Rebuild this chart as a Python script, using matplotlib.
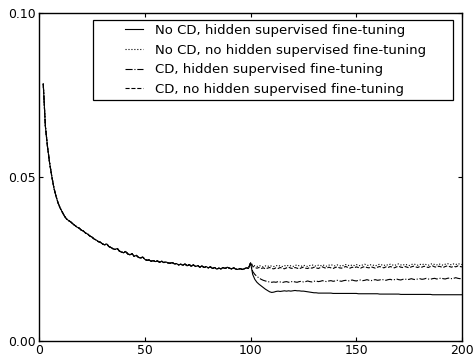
import numpy as np
import matplotlib
matplotlib.use("Agg")
import matplotlib.pyplot as plt
from matplotlib.patches import Rectangle

# epochs 2..100: shared pre-training curve (same for every run)
pretrain_epochs = np.arange(2, 101)
pretrain_err = [
    0.0784, 0.0655, 0.0593, 0.0543, 0.0503, 0.0468, 0.0442, 0.0421, 0.0405,
    0.0393, 0.0381, 0.0372, 0.0367, 0.0363, 0.0357, 0.0352, 0.0347, 0.0344,
    0.0338, 0.0335, 0.0329, 0.0326, 0.0320, 0.0317, 0.0311, 0.0308, 0.0303,
    0.0301, 0.0296, 0.0293, 0.0296, 0.0288, 0.0285, 0.0281, 0.0279, 0.0282,
    0.0274, 0.0271, 0.0269, 0.0273, 0.0265, 0.0263, 0.0266, 0.0258, 0.0261,
    0.0255, 0.0253, 0.0256, 0.0249, 0.0246, 0.0247, 0.0243, 0.0245, 0.0242,
    0.0244, 0.0240, 0.0243, 0.0239, 0.0241, 0.0238, 0.0237, 0.0239, 0.0235,
    0.0236, 0.0232, 0.0234, 0.0231, 0.0235, 0.0229, 0.0233, 0.0228, 0.0232,
    0.0227, 0.0230, 0.0225, 0.0229, 0.0224, 0.0227, 0.0223, 0.0226, 0.0221,
    0.0224, 0.0219, 0.0222, 0.0220, 0.0224, 0.0221, 0.0225, 0.0222, 0.0220,
    0.0223, 0.0219, 0.0218, 0.0221, 0.0218, 0.0220, 0.0223, 0.0221, 0.0238,
]

# epochs 101..200: fine-tuning stage, one series per setting
finetune_epochs = np.arange(101, 201)
nocd_hidden = [
    0.0203, 0.0188, 0.0179, 0.0173, 0.0168, 0.0163, 0.0158, 0.0154, 0.0150, 0.0148,
    0.0149, 0.0151, 0.0152, 0.0151, 0.0152, 0.0153, 0.0152, 0.0153, 0.0152, 0.0153,
    0.0154, 0.0153, 0.0153, 0.0152, 0.0152, 0.0151, 0.0150, 0.0149, 0.0148, 0.0147,
    0.0147, 0.0146, 0.0146, 0.0146, 0.0146, 0.0146, 0.0146, 0.0146, 0.0145, 0.0145,
    0.0145, 0.0145, 0.0145, 0.0145, 0.0145, 0.0145, 0.0145, 0.0145, 0.0145, 0.0145,
    0.0144, 0.0144, 0.0144, 0.0144, 0.0144, 0.0144, 0.0144, 0.0144, 0.0144, 0.0144,
    0.0143, 0.0143, 0.0143, 0.0143, 0.0143, 0.0143, 0.0143, 0.0143, 0.0143, 0.0143,
    0.0142, 0.0142, 0.0142, 0.0142, 0.0142, 0.0142, 0.0142, 0.0142, 0.0142, 0.0142,
    0.0142, 0.0142, 0.0142, 0.0142, 0.0142, 0.0141, 0.0141, 0.0141, 0.0141, 0.0141,
    0.0141, 0.0141, 0.0141, 0.0141, 0.0141, 0.0141, 0.0141, 0.0141, 0.0141, 0.0141,
]
nocd_nohidden = [
    0.0232, 0.0229, 0.0227, 0.0230, 0.0228, 0.0226, 0.0229, 0.0227, 0.0230, 0.0228,
    0.0227, 0.0229, 0.0231, 0.0228, 0.0227, 0.0230, 0.0228, 0.0231, 0.0229, 0.0227,
    0.0230, 0.0232, 0.0229, 0.0228, 0.0231, 0.0229, 0.0227, 0.0230, 0.0232, 0.0230,
    0.0228, 0.0231, 0.0229, 0.0232, 0.0230, 0.0228, 0.0231, 0.0233, 0.0230, 0.0229,
    0.0232, 0.0230, 0.0228, 0.0231, 0.0233, 0.0231, 0.0229, 0.0232, 0.0230, 0.0233,
    0.0231, 0.0229, 0.0232, 0.0234, 0.0231, 0.0230, 0.0233, 0.0231, 0.0229, 0.0232,
    0.0234, 0.0232, 0.0230, 0.0233, 0.0231, 0.0234, 0.0232, 0.0230, 0.0233, 0.0235,
    0.0232, 0.0231, 0.0234, 0.0232, 0.0230, 0.0233, 0.0235, 0.0233, 0.0231, 0.0234,
    0.0232, 0.0235, 0.0233, 0.0231, 0.0234, 0.0236, 0.0233, 0.0232, 0.0235, 0.0233,
    0.0231, 0.0234, 0.0236, 0.0234, 0.0232, 0.0235, 0.0233, 0.0236, 0.0234, 0.0233,
]
cd_hidden = [
    0.0212, 0.0203, 0.0197, 0.0192, 0.0188, 0.0185, 0.0183, 0.0181, 0.0180, 0.0179,
    0.0180, 0.0179, 0.0181, 0.0180, 0.0178, 0.0180, 0.0181, 0.0179, 0.0180, 0.0182,
    0.0180, 0.0179, 0.0181, 0.0182, 0.0180, 0.0181, 0.0183, 0.0181, 0.0180, 0.0182,
    0.0183, 0.0181, 0.0182, 0.0184, 0.0182, 0.0181, 0.0183, 0.0184, 0.0182, 0.0183,
    0.0185, 0.0183, 0.0182, 0.0184, 0.0185, 0.0183, 0.0184, 0.0186, 0.0184, 0.0183,
    0.0185, 0.0186, 0.0184, 0.0185, 0.0187, 0.0185, 0.0184, 0.0186, 0.0187, 0.0185,
    0.0186, 0.0188, 0.0186, 0.0185, 0.0187, 0.0188, 0.0186, 0.0187, 0.0189, 0.0187,
    0.0186, 0.0188, 0.0189, 0.0187, 0.0188, 0.0190, 0.0188, 0.0187, 0.0189, 0.0190,
    0.0188, 0.0189, 0.0191, 0.0189, 0.0188, 0.0190, 0.0191, 0.0189, 0.0190, 0.0192,
    0.0190, 0.0189, 0.0191, 0.0192, 0.0190, 0.0191, 0.0193, 0.0191, 0.0190, 0.0192,
]
cd_nohidden = [
    0.0228, 0.0224, 0.0222, 0.0224, 0.0221, 0.0223, 0.0220, 0.0222, 0.0224, 0.0221,
    0.0220, 0.0223, 0.0221, 0.0224, 0.0222, 0.0220, 0.0223, 0.0225, 0.0222, 0.0221,
    0.0224, 0.0222, 0.0220, 0.0223, 0.0225, 0.0222, 0.0221, 0.0224, 0.0222, 0.0225,
    0.0223, 0.0221, 0.0224, 0.0226, 0.0223, 0.0222, 0.0225, 0.0223, 0.0221, 0.0224,
    0.0226, 0.0223, 0.0222, 0.0225, 0.0227, 0.0224, 0.0222, 0.0225, 0.0223, 0.0226,
    0.0224, 0.0222, 0.0225, 0.0227, 0.0224, 0.0223, 0.0226, 0.0224, 0.0222, 0.0225,
    0.0227, 0.0225, 0.0223, 0.0226, 0.0224, 0.0227, 0.0225, 0.0223, 0.0226, 0.0228,
    0.0225, 0.0224, 0.0227, 0.0225, 0.0223, 0.0226, 0.0228, 0.0226, 0.0224, 0.0227,
    0.0225, 0.0228, 0.0226, 0.0224, 0.0227, 0.0229, 0.0226, 0.0225, 0.0228, 0.0226,
    0.0224, 0.0227, 0.0229, 0.0227, 0.0225, 0.0228, 0.0226, 0.0229, 0.0227, 0.0226,
]

labels = [
    "No CD, hidden supervised fine-tuning",
    "No CD, no hidden supervised fine-tuning",
    "CD, hidden supervised fine-tuning",
    "CD, no hidden supervised fine-tuning",
]
styles = ["-", ":", "-.", "--"]
finetune_runs = [nocd_hidden, nocd_nohidden, cd_hidden, cd_nohidden]

FS = 8.9
LEG_FS = 9.5
plt.rcParams["font.family"] = "DejaVu Sans"
plt.rcParams["font.size"] = FS

fig = plt.figure(figsize=(4.73, 3.6), dpi=100)
ax = fig.add_axes([0.0825, 0.0528, 0.8945, 0.9112])

epochs = np.concatenate([pretrain_epochs, finetune_epochs])
for run, ls, lab in zip(finetune_runs, styles, labels):
    err = np.concatenate([pretrain_err, run])
    ax.plot(epochs, err, color="black", linestyle=ls, linewidth=0.8, label=lab)

ax.set_xlim(0, 200)
ax.set_ylim(0, 0.10)
ax.set_xticks([0, 50, 100, 150, 200])
ax.set_yticks([0.0, 0.05, 0.10])
ax.yaxis.set_major_formatter(matplotlib.ticker.FormatStrFormatter("%.2f"))
ax.tick_params(direction="in", top=True, right=True, length=3, width=0.8,
               labelsize=FS)
ax.tick_params(axis="x", pad=2.5)
ax.tick_params(axis="y", pad=2)
for sp in ax.spines.values():
    sp.set_linewidth(1.0)

# legend entries without frame, wide box drawn separately
ax.legend(loc="upper left", bbox_to_anchor=(0.203, 0.966), frameon=False,
          borderpad=0, borderaxespad=0, handlelength=1.35, handletextpad=0.95,
          labelspacing=0.5, fontsize=LEG_FS)
ax.add_patch(Rectangle((0.128, 0.736), 0.851, 0.244, transform=ax.transAxes,
                       fill=False, edgecolor="black", linewidth=0.9, zorder=5))

fig.savefig("out.png", dpi=100)
